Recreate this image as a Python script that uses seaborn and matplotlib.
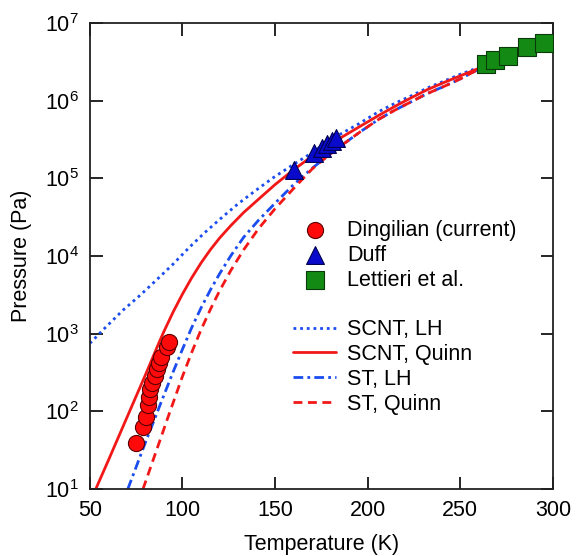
import numpy as np
import pandas as pd
import matplotlib
matplotlib.use('Agg')
import matplotlib.pyplot as plt
import seaborn as sns
from matplotlib.lines import Line2D
from matplotlib.ticker import NullLocator

# measured points
dingilian_T = [75.1, 78.7, 80.1, 81.4, 81.9, 82.6, 83.7, 84.9, 86.2, 87.3, 88.5, 91.6, 92.6]
dingilian_P = [39, 62, 84, 120, 154, 192, 233, 284, 347, 415, 505, 676, 787]

duff_T = [160.2, 171.0, 175.4, 178.1, 180.5, 183.0]
duff_P = [1.28e5, 2.09e5, 2.43e5, 2.76e5, 3.04e5, 3.27e5]

lettieri_T = [263.6, 268.6, 275.8, 286.2, 295.2]
lettieri_P = [3.0e6, 3.3e6, 3.74e6, 4.84e6, 5.55e6]

# model curves
scnt_lh_T = [50, 58, 67.9, 77, 85.9, 95, 103.8, 112, 121.7, 130, 139.6, 149, 158, 168,
             177, 186, 195, 206, 215, 224, 232, 242, 250, 263.5]
scnt_lh_P = [750, 1175, 2010, 3100, 4900, 7900, 1.30e4, 2.00e4, 3.20e4, 4.70e4, 7.00e4,
             1.02e5, 1.41e5, 2.00e5, 2.82e5, 3.80e5, 5.01e5, 7.24e5, 9.33e5, 1.17e6,
             1.45e6, 1.82e6, 2.19e6, 2.88e6]

scnt_quinn_T = [53.2, 60, 70, 80, 87.6, 90, 95, 100, 105, 110, 115, 120, 126, 133, 141,
                150, 160, 168, 177.3, 186, 195.2, 205.9, 214.9, 223.8, 232, 241.8, 250,
                263.5]
scnt_quinn_P = [10, 23.4, 83.2, 295, 794, 1070, 1910, 3240, 5250, 8130, 1.20e4, 1.70e4,
                2.45e4, 3.63e4, 5.37e4, 8.32e4, 1.29e5, 1.78e5, 2.51e5, 3.39e5, 4.57e5,
                6.46e5, 8.51e5, 1.10e6, 1.38e6, 1.74e6, 2.09e6, 2.82e6]

st_lh_T = [70.5, 80, 90, 95, 100, 105, 110, 115, 120, 126, 133, 141, 150, 160, 170, 178,
           186.2, 196, 205.9, 214, 223.8, 232, 241.8, 250, 263.5]
st_lh_P = [10, 39.8, 162, 324, 631, 1200, 2140, 3630, 5890, 1.0e4, 1.74e4, 2.88e4,
           4.79e4, 8.32e4, 1.35e5, 1.91e5, 2.69e5, 3.98e5, 5.75e5, 7.41e5, 9.77e5,
           1.23e6, 1.55e6, 1.91e6, 2.82e6]

st_quinn_T = [78.7, 86, 93, 100, 105, 110, 115, 120, 126, 133, 141, 150, 160, 170, 178,
              186.2, 196, 205.9, 214, 223.8, 232, 241.8, 250, 263.5]
st_quinn_P = [10, 31.6, 95.5, 282, 575, 1120, 2040, 3550, 6460, 1.20e4, 2.24e4, 4.07e4,
              7.41e4, 1.32e5, 1.91e5, 2.69e5, 3.98e5, 5.75e5, 7.41e5, 9.77e5, 1.23e6,
              1.55e6, 1.91e6, 2.82e6]

sns.set_style('ticks')
plt.rcParams['font.family'] = ['Liberation Sans', 'DejaVu Sans']
plt.rcParams['mathtext.fontset'] = 'custom'
plt.rcParams['mathtext.rm'] = 'Liberation Sans'
plt.rcParams['mathtext.it'] = 'Liberation Sans'
plt.rcParams['text.color'] = 'black'
plt.rcParams['axes.labelcolor'] = 'black'
fs = 15.5

fig, ax = plt.subplots(figsize=(5.76, 5.56), dpi=100)
fig.subplots_adjust(left=0.156, right=0.960, bottom=0.1205, top=0.9586)
ax.set_yscale('log')

blue = '#1a4cf0'
red = '#f21818'

curves = [
    (scnt_lh_T, scnt_lh_P, blue, (0, (1, 1.4)), 'SCNT, LH'),
    (st_lh_T, st_lh_P, blue, (0, (3.5, 1.5, 1, 1.5)), 'ST, LH'),
    (st_quinn_T, st_quinn_P, red, (0, (3.2, 2.0)), 'ST, Quinn'),
    (scnt_quinn_T, scnt_quinn_P, red, '-', 'SCNT, Quinn'),
]
line_handles = {}
for T, P, c, ls, name in curves:
    sns.lineplot(x=T, y=P, ax=ax, color=c, linewidth=2, legend=False)
    ln = ax.lines[-1]
    ln.set_linestyle(ls)
    line_handles[name] = ln

sns.scatterplot(x=dingilian_T, y=dingilian_P, ax=ax, marker='o', s=135, color='#ff0a0a',
                edgecolor='#5a0000', linewidth=0.8, zorder=4, legend=False)
h_circ = ax.collections[-1]
sns.scatterplot(x=duff_T, y=duff_P, ax=ax, marker='^', s=165, color='#0a0acc',
                edgecolor='#000050', linewidth=0.8, zorder=4, legend=False)
h_tri = ax.collections[-1]
sns.scatterplot(x=lettieri_T, y=lettieri_P, ax=ax, marker='s', s=150, color='#138a13',
                edgecolor='#0a3a0a', linewidth=0.8, zorder=4, legend=False)
h_sq = ax.collections[-1]

ax.set_xlim(50, 300)
ax.set_ylim(10, 1e7)
ax.set_xticks([50, 100, 150, 200, 250, 300])
ax.yaxis.set_minor_locator(NullLocator())
ax.tick_params(direction='in', length=9, width=1.2, top=True, right=True,
               labelsize=fs, pad=8, colors='black')
for sp in ax.spines.values():
    sp.set_linewidth(1.3)
    sp.set_color('#222222')

ax.set_xlabel('Temperature (K)', fontsize=fs, labelpad=9)
ax.set_ylabel('Pressure (Pa)', fontsize=fs, labelpad=9)

blank = Line2D([], [], color='none')
handles = [h_circ, h_tri, h_sq, blank, line_handles['SCNT, LH'], line_handles['SCNT, Quinn'],
           line_handles['ST, LH'], line_handles['ST, Quinn']]
labels = ['Dingilian (current)', 'Duff', 'Lettieri et al.', ' ', 'SCNT, LH', 'SCNT, Quinn',
          'ST, LH', 'ST, Quinn']
ax.legend(handles, labels, loc='upper left', bbox_to_anchor=(0.439, 0.577), frameon=False,
          handlelength=2.0, handletextpad=0.5, labelspacing=0.175, scatterpoints=1,
          borderpad=0, borderaxespad=0, fontsize=fs)

fig.savefig('out.png', dpi=100)
